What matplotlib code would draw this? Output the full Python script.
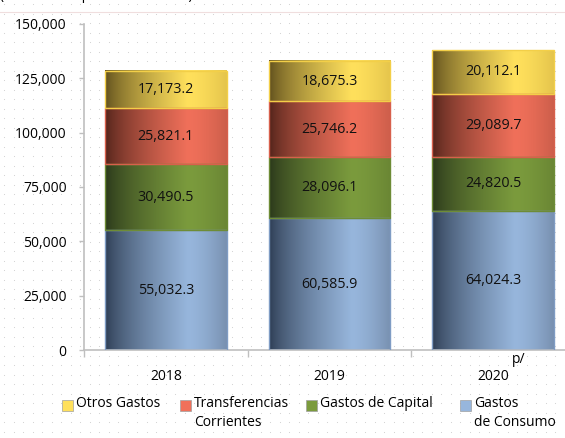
import numpy as np
import matplotlib
matplotlib.use("Agg")
import matplotlib.pyplot as plt
from matplotlib.patches import Rectangle
from matplotlib.colors import to_rgb

plt.rcParams['font.family'] = ['Open Sans', 'DejaVu Sans']

years = ['2018', '2019', '2020']
consumo = [55032.3, 60585.9, 64024.3]
capital = [30490.5, 28096.1, 24820.5]
transferencias = [25821.1, 25746.2, 29089.7]
otros = [17173.2, 18675.3, 20112.1]

series = [consumo, capital, transferencias, otros]
names = ['Gastos\nde Consumo', 'Gastos de Capital', 'Transferencias\nCorrientes', 'Otros Gastos']
# (dark left, light, right edge, border)
shades = [
    ('#2b3a50', '#97b6dc', '#7890b0', '#7f9cc4'),
    ('#28351a', '#7b9b3d', '#6a8634', '#6e8c36'),
    ('#4e2219', '#f0705a', '#cc5e4b', '#d8604c'),
    ('#5c4c1c', '#ffe05c', '#e4c44c', '#f3cf48'),
]
legend_col = ['#97b6dc', '#7b9b3d', '#f0705a', '#ffe05c']


def gradient(dark, light, edge, n=200):
    d, l, e = np.array(to_rgb(dark)), np.array(to_rgb(light)), np.array(to_rgb(edge))
    t = np.linspace(0, 1, n)
    out = np.zeros((n, 3))
    for i, v in enumerate(t):
        if v < 0.68:
            s = (v / 0.68) ** 0.7
            out[i] = d + (l - d) * s
        else:
            s = (v - 0.68) / 0.32
            out[i] = l + (e - l) * s ** 1.5
    return out[np.newaxis, :, :]


W, H = 565, 438
fig = plt.figure(figsize=(W / 100, H / 100), dpi=100)

# dotted background
bg = fig.add_axes([0, 0, 1, 1], zorder=-5)
gx, gy = np.meshgrid(np.arange(4, W, 9.5), np.arange(4, H, 9.5))
bg.scatter(gx.ravel(), gy.ravel(), s=0.6, c='#cfcfcf', linewidths=0)
bg.set_xlim(0, W)
bg.set_ylim(H, 0)
bg.axis('off')
bg.plot([0, W], [12, 12], color='#f0dede', lw=0.8)

ax = fig.add_axes([84 / W, (H - 350) / H, 491 / W, 326 / H])
ax.patch.set_alpha(0)

x = np.arange(len(years))
bw = 0.745
bottom = np.zeros(len(years))
for vals, (dk, lt, ed, bd) in zip(series, shades):
    img = gradient(dk, lt, ed)
    for i in range(len(years)):
        x0, x1 = x[i] - bw / 2, x[i] + bw / 2
        y0, y1 = bottom[i], bottom[i] + vals[i]
        ax.imshow(img, extent=(x0, x1, y0, y1), aspect='auto', zorder=2, interpolation='bilinear')
        ax.add_patch(Rectangle((x0, y0), bw, vals[i], fill=False, edgecolor=bd, lw=1.0, zorder=3))
        ax.text(x[i], y0 + vals[i] / 2, f'{vals[i]:,.1f}', ha='center', va='center',
                fontsize=10.3, color='#111111', zorder=4)
    bottom += np.array(vals)

ax.set_xlim(-0.5, 2.5)
ax.set_ylim(0, 150000)
ax.set_yticks(np.arange(0, 150001, 25000))
ax.set_yticklabels([f'{v:,}' for v in range(0, 150001, 25000)], fontsize=10)
ax.set_xticks(x)
ax.set_xticklabels(years, fontsize=10)
ax.set_xticks([-0.5, 0.5, 1.5, 2.5], minor=True)
ax.tick_params(axis='x', which='major', length=0, pad=14)
ax.tick_params(axis='x', which='minor', length=5, color='#bfbfbf', width=1)
ax.tick_params(axis='y', length=3.5, color='#bfbfbf', width=1, pad=9)
ax.text(2.115, -0.028, 'p/', transform=ax.get_xaxis_transform(), fontsize=10, ha='left', va='center')
for s in ['top', 'right']:
    ax.spines[s].set_visible(False)
for s in ['left', 'bottom']:
    ax.spines[s].set_color('#bfbfbf')
    ax.spines[s].set_linewidth(1.2)

# top note (cropped in the original)
fig.text(0 / W, 1 + 1 / H, '(Millones de pesos corrientes)', fontsize=10, ha='left', va='baseline')

# legend
leg_items = [(62, 'Otros Gastos', legend_col[3]),
             (180, 'Transferencias\nCorrientes', legend_col[2]),
             (306, 'Gastos de Capital', legend_col[1]),
             (460, 'Gastos\nde Consumo', legend_col[0])]
for px, lab, col in leg_items:
    fig.patches.append(Rectangle((px / W, 1 - 411 / H), 11 / W, 11 / H, transform=fig.transFigure,
                                 facecolor=col, edgecolor='#a0a0a0', lw=0.5))
    fig.text((px + 14) / W, 1 - 396 / H, lab, fontsize=10, ha='left', va='top', linespacing=1.35)

fig.savefig('out.png', dpi=100)
